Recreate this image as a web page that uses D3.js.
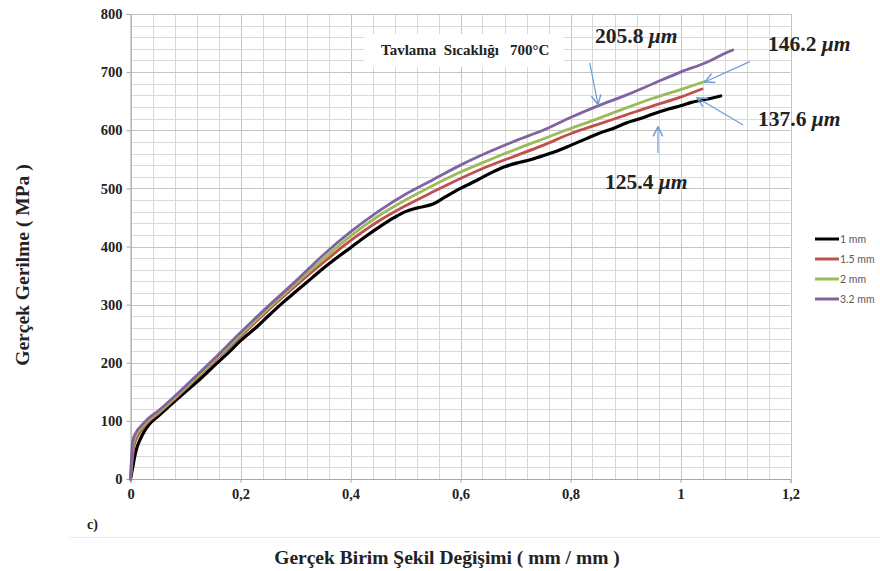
<!DOCTYPE html>
<html><head><meta charset="utf-8">
<script src="https://cdn.jsdelivr.net/npm/d3@7"></script>
<style>body{margin:0;background:#fff}svg{display:block}</style>
</head><body><svg id="c" width="880" height="571"></svg>
<script>
// ---- data ----
const xTicks = [0, 0.2, 0.4, 0.6, 0.8, 1, 1.2];
const xTickLabels = ["0", "0,2", "0,4", "0,6", "0,8", "1", "1,2"];
const yTicks = [0, 100, 200, 300, 400, 500, 600, 700, 800];
const seriesNames = ["1 mm", "1.5 mm", "2 mm", "3.2 mm"];
const seriesColors = ["#000000", "#c0504d", "#9bbb59", "#8064a2"];

const curve1mm = [[0,0],[0.004,20],[0.008,40],[0.012,55],[0.017,67],[0.025,82],[0.035,95],[0.05,108],[0.07,125],[0.1,150],[0.13,175],[0.15,193],[0.18,219],[0.2,238],[0.23,262],[0.25,280],[0.28,306],[0.3,322],[0.33,346],[0.35,362],[0.38,384],[0.4,398],[0.43,419],[0.45,432],[0.48,450],[0.5,460],[0.52,466],[0.55,473],[0.57,484],[0.6,500],[0.63,514],[0.65,524],[0.68,537],[0.7,543],[0.73,550],[0.75,556],[0.78,566],[0.8,574],[0.83,586],[0.85,594],[0.88,604],[0.9,612],[0.93,621],[0.95,628],[0.98,637],[1.0,642],[1.02,648],[1.04,652],[1.06,656],[1.073,659]];
const curve15mm = [[0,0],[0.003,30],[0.006,55],[0.012,72],[0.02,84],[0.03,96],[0.05,112],[0.1,155],[0.15,200],[0.2,245],[0.25,290],[0.3,332],[0.35,372],[0.4,410],[0.45,443],[0.5,470],[0.55,494],[0.6,517],[0.65,538],[0.7,556],[0.75,574],[0.8,594],[0.85,610],[0.9,626],[0.95,642],[1.0,657],[1.039,671]];
const curve2mm = [[0,0],[0.002,35],[0.005,60],[0.01,75],[0.02,88],[0.03,99],[0.05,114],[0.1,157],[0.15,202],[0.2,248],[0.25,293],[0.3,336],[0.35,378],[0.4,418],[0.45,452],[0.5,480],[0.55,505],[0.6,528],[0.65,548],[0.7,567],[0.75,585],[0.8,603],[0.85,620],[0.9,638],[0.95,655],[1.0,670],[1.045,684]];
const curve32mm = [[0,0],[0.002,40],[0.004,65],[0.01,80],[0.02,92],[0.03,102],[0.05,117],[0.1,160],[0.15,205],[0.2,252],[0.25,297],[0.3,340],[0.35,385],[0.4,425],[0.45,460],[0.5,490],[0.55,515],[0.6,540],[0.65,562],[0.7,582],[0.75,600],[0.8,622],[0.85,642],[0.9,660],[0.95,680],[1.0,700],[1.05,718],[1.08,732],[1.095,738]];
const seriesData = [curve1mm, curve15mm, curve2mm, curve32mm];

const sizeLabels = ["205.8", "146.2", "137.6", "125.4"];
// arrows in data coordinates: [x, y]
const arrowTails = [[0.835,716],[1.126,718],[1.114,609],[0.959,561]];
const arrowTips  = [[0.85,644],[1.044,683],[1.03,656],[0.959,606]];

// ---- drawing ----
const svg = d3.select("#c");
const x = d3.scaleLinear([0, 1.2], [130.5, 790.5]);
const y = d3.scaleLinear([0, 800], [479, 14]);
const serif = "'Liberation Serif', 'Times New Roman', serif";

// grid
const g = svg.append("g");
const minorX = d3.range(0, 31).map(i => i * 0.04);
const minorY = d3.range(0, 41).map(i => i * 20);
g.selectAll(".vx").data(minorX).join("line")
  .attr("x1", d => Math.round(x(d)) + 0.5).attr("x2", d => Math.round(x(d)) + 0.5)
  .attr("y1", y(800)).attr("y2", y(0))
  .attr("stroke", (d, i) => i % 5 === 0 ? "#c4c4c4" : "#d9d9d9").attr("stroke-width", 1);
g.selectAll(".hy").data(minorY).join("line")
  .attr("y1", d => Math.round(y(d)) + 0.5).attr("y2", d => Math.round(y(d)) + 0.5)
  .attr("x1", x(0)).attr("x2", x(1.2))
  .attr("stroke", (d, i) => i % 5 === 0 ? "#c4c4c4" : "#d9d9d9").attr("stroke-width", 1);

// axes
const xAxis = d3.axisBottom(x).tickValues(xTicks).tickFormat((d, i) => xTickLabels[i]).tickSize(4).tickPadding(6);
const yAxis = d3.axisLeft(y).tickValues(yTicks).tickSize(4).tickPadding(4);
const gx = svg.append("g").attr("transform", `translate(0,${y(0)})`).call(xAxis);
const gy = svg.append("g").attr("transform", `translate(${x(0)},0)`).call(yAxis);
[gx, gy].forEach(a => {
  a.select(".domain").attr("stroke", "#a6a6a6");
  a.selectAll(".tick line").attr("stroke", "#a6a6a6");
  a.selectAll("text").attr("font-family", serif)
    .attr("font-weight", "bold").attr("font-size", 14.5).attr("fill", "#222");
});

// annotation box
svg.append("rect").attr("x", 364).attr("y", 34).attr("width", 200).attr("height", 33).attr("fill", "#fff");
svg.append("text").attr("x", 381).attr("y", 55)
  .attr("font-family", serif).attr("font-weight", "bold")
  .attr("font-size", 15).attr("fill", "#222").style("white-space", "pre")
  .text("Tavlama  Sıcaklığı   700°C");

// lines
const line = d3.line().x(d => x(d[0])).y(d => y(d[1])).curve(d3.curveMonotoneX);
svg.append("g").selectAll("path").data(seriesData).join("path")
  .attr("d", line).attr("fill", "none")
  .attr("stroke", (d, i) => seriesColors[i])
  .attr("stroke-width", (d, i) => i === 0 ? 3.2 : 2.8)
  .attr("stroke-linejoin", "round").attr("stroke-linecap", "round");

// arrows
const defs = svg.append("defs");
defs.append("marker").attr("id", "ah").attr("viewBox", "0 0 10 10").attr("refX", 9).attr("refY", 5)
  .attr("markerWidth", 12).attr("markerHeight", 12).attr("markerUnits", "userSpaceOnUse").attr("orient", "auto")
  .append("path").attr("d", "M1,1 L9,5 L1,9").attr("fill", "none").attr("stroke", "#6f9bd4").attr("stroke-width", 1.2);
svg.append("g").selectAll("line").data(arrowTails).join("line")
  .attr("x1", d => x(d[0])).attr("y1", d => y(d[1]))
  .attr("x2", (d, i) => x(arrowTips[i][0])).attr("y2", (d, i) => y(arrowTips[i][1]))
  .attr("stroke", "#6f9bd4").attr("stroke-width", 1.2).attr("marker-end", "url(#ah)");

// size labels
const labelPos = [[595, 43], [768, 51], [758, 126], [605, 189]];
sizeLabels.forEach((t, i) => {
  const tx = svg.append("text").attr("x", labelPos[i][0]).attr("y", labelPos[i][1])
    .attr("font-family", serif).attr("font-weight", "bold")
    .attr("font-size", 21.5).attr("fill", "#222");
  tx.append("tspan").text(t + " ");
  tx.append("tspan").attr("font-style", "italic").text("μm");
});

// legend
const lg = svg.append("g");
seriesNames.forEach((n, i) => {
  const yy = 239 + i * 20;
  lg.append("line").attr("x1", 815).attr("x2", 839).attr("y1", yy).attr("y2", yy)
    .attr("stroke", seriesColors[i]).attr("stroke-width", 3);
  lg.append("text").attr("x", 840).attr("y", yy + 3.5).attr("font-family", "Lato, 'Open Sans', sans-serif")
    .attr("font-size", 10.5).attr("fill", "#595959").text(n);
});

// titles
svg.append("text").attr("x", 447).attr("y", 564).attr("text-anchor", "middle")
  .attr("font-family", serif).attr("font-weight", "bold")
  .attr("font-size", 19.5).attr("fill", "#222").text("Gerçek Birim Şekil Değişimi ( mm / mm )");
svg.append("text").attr("transform", "translate(29,265) rotate(-90)").attr("text-anchor", "middle")
  .attr("font-family", serif).attr("font-weight", "bold")
  .attr("font-size", 19.5).attr("fill", "#222").text("Gerçek Gerilme ( MPa )");
svg.append("text").attr("x", 87).attr("y", 529)
  .attr("font-family", serif).attr("font-weight", "bold")
  .attr("font-size", 14).attr("fill", "#222").text("c)");
svg.append("line").attr("x1", 70).attr("x2", 880).attr("y1", 537.5).attr("y2", 537.5)
  .attr("stroke", "#ececec").attr("stroke-width", 1);
</script></body></html>
